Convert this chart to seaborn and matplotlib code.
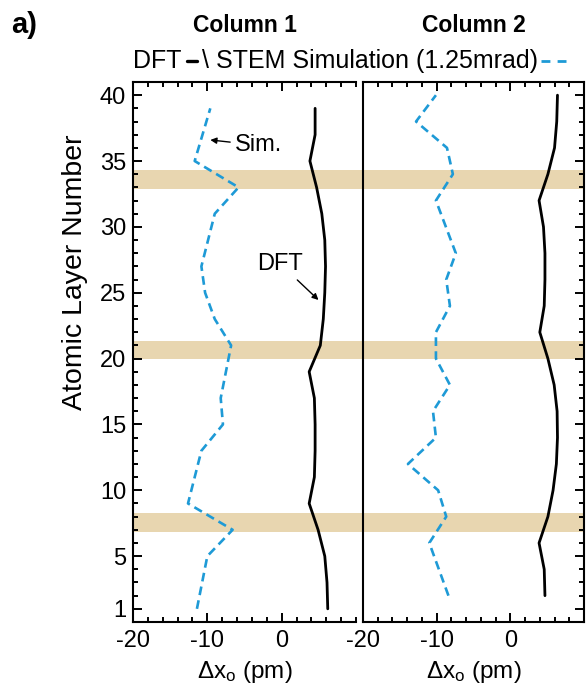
import numpy as np
import pandas as pd
import matplotlib
matplotlib.use("Agg")
import matplotlib.pyplot as plt
import seaborn as sns
from matplotlib.ticker import MultipleLocator, FixedLocator
from matplotlib.lines import Line2D

sns.set_theme(style="ticks")
plt.rcParams['font.family'] = ['Liberation Sans', 'DejaVu Sans']
plt.rcParams['mathtext.default'] = 'regular'
plt.rcParams['axes.unicode_minus'] = False
plt.rcParams['text.color'] = 'black'
plt.rcParams['axes.labelcolor'] = 'black'
plt.rcParams['xtick.color'] = 'black'
plt.rcParams['ytick.color'] = 'black'

# ---------------- data ----------------
c1_dft_layer = [1, 3, 5, 7, 9, 11, 13, 15, 17, 19, 21, 23, 25, 27, 29, 31, 33, 35, 37, 39]
c1_dft_dx = [6.2, 6.1, 5.8, 4.9, 3.7, 4.4, 4.5, 4.5, 4.4, 3.7, 5.2, 5.6, 5.8, 5.9, 5.8, 5.4, 4.7, 3.8, 4.5, 4.5]

c1_sim_layer = [1, 5, 7, 9, 13, 15, 17, 21, 23, 25, 27, 31, 33, 35, 39]
c1_sim_dx = [-11.4, -10.0, -6.6, -12.6, -10.8, -7.9, -8.2, -6.8, -9.0, -10.3, -10.8, -9.0, -5.8, -11.7, -9.6]

c2_dft_layer = [2, 4, 6, 8, 10, 12, 14, 16, 18, 20, 22, 24, 26, 28, 30, 32, 34, 36, 38, 40]
c2_dft_dx = [4.7, 4.6, 3.9, 5.1, 5.8, 6.25, 6.4, 6.35, 5.95, 5.1, 4.0, 4.6, 4.7, 4.7, 4.5, 3.9, 5.1, 6.0, 6.3, 6.4]

c2_sim_layer = [2, 6, 8, 10, 12, 14, 16, 18, 20, 22, 24, 26, 28, 32, 34, 36, 38, 40]
c2_sim_dx = [-8.4, -11.0, -8.7, -9.8, -13.9, -10.1, -10.5, -8.2, -10.1, -10.1, -8.2, -8.7, -7.4, -10.1, -7.8, -8.6, -12.8, -10.1]

band_lo = [32.9, 20.0, 6.8]
band_hi = [34.3, 21.3, 8.3]

y_ticks = [1, 5, 10, 15, 20, 25, 30, 35, 40]
x_ticks = [-20, -10, 0]
titles = ["Column 1", "Column 2"]

# ---------------- style ----------------
BLUE = "#1E9AD6"
TAN = "#E8D6B0"
W, H = 586, 687
FS = 17

fig = plt.figure(figsize=(W / 100, H / 100), dpi=100)


def rect(l, r, t, b):
    return [l / W, 1 - b / H, (r - l) / W, (b - t) / H]


ax1 = fig.add_axes(rect(133, 356, 82, 622))
ax2 = fig.add_axes(rect(363, 584, 82, 622))
ax1.set_zorder(0)
ax2.set_zorder(1)
ax2.patch.set_alpha(0)

# shaded bands spanning both panels
span_frac = (584 - 133) / (356 - 133)
for lo, hi in zip(band_lo, band_hi):
    ax1.axhspan(lo, hi, xmin=0, xmax=span_frac, color=TAN, lw=0, zorder=0, clip_on=False)

frames = [
    (ax1, c1_dft_layer, c1_dft_dx, c1_sim_layer, c1_sim_dx),
    (ax2, c2_dft_layer, c2_dft_dx, c2_sim_layer, c2_sim_dx),
]
for ax, dl, dx, sl, sx in frames:
    d_dft = pd.DataFrame({"layer": dl, "dx": dx})
    d_sim = pd.DataFrame({"layer": sl, "dx": sx})
    sns.lineplot(data=d_dft, x="dx", y="layer", orient="y", ax=ax,
                 color="black", lw=2.0, zorder=3)
    sns.lineplot(data=d_sim, x="dx", y="layer", orient="y", ax=ax,
                 color=BLUE, lw=1.9, linestyle=(0, (3.3, 2.0)), zorder=3)
    ax.set_xlim(-20, 10)
    ax.set_ylim(0, 41)
    ax.xaxis.set_major_locator(FixedLocator(x_ticks))
    ax.xaxis.set_minor_locator(MultipleLocator(2))
    ax.yaxis.set_major_locator(FixedLocator(y_ticks))
    ax.yaxis.set_minor_locator(MultipleLocator(1))
    ax.tick_params(which="both", direction="in", width=1.4, top=True, bottom=True,
                   labelsize=FS, color="black", labelcolor="black")
    ax.tick_params(which="major", length=6.5)
    ax.tick_params(which="minor", length=3.5)
    ax.tick_params(axis="x", pad=6)
    ax.set_xticklabels([str(t) for t in x_ticks])
    for s in ax.spines.values():
        s.set_linewidth(1.5)
        s.set_color("black")
    ax.set_xlabel("Δx$_o$ (pm)", fontsize=FS + 0.5, color="black", va="top")
    ax.xaxis.set_label_coords(0.5, -0.068)
    ax.set_ylabel("")

ax1.spines["right"].set_visible(False)
ax1.tick_params(axis="y", which="both", left=True, right=False, pad=5)
ax1.set_yticklabels([str(t) for t in y_ticks])
ax1.set_ylabel("Atomic Layer Number", fontsize=20.5, color="black", va="center")
ax1.yaxis.set_label_coords(-0.262, 0.648)

ax2.tick_params(axis="y", which="both", left=False, right=True, labelleft=False, labelright=False)

# titles
fig.text(245 / W, 1 - 26 / H, titles[0], fontsize=16.5, fontweight="bold", ha="center", va="center")
fig.text(474 / W, 1 - 26 / H, titles[1], fontsize=16.5, fontweight="bold", ha="center", va="center")
fig.text(11 / W, 1 - 25 / H, "a)", fontsize=21, fontweight="bold", ha="left", va="center")

# annotations
ax1.annotate("Sim.", xy=(-9.6, 36.6), xytext=(-6.3, 36.2), fontsize=FS, va="center", ha="left",
             arrowprops=dict(arrowstyle="-|>", color="black", lw=1.0, mutation_scale=9,
                             shrinkA=1, shrinkB=0))
ax1.annotate("DFT", xy=(4.95, 24.45), xytext=(-0.2, 27.2), fontsize=FS, va="center", ha="center",
             arrowprops=dict(arrowstyle="-|>", color="black", lw=1.0, mutation_scale=9,
                             shrinkA=2, shrinkB=0))

# custom legend line: "DFT — \ STEM Simulation (1.25mrad) - -"
fig.canvas.draw()
r = fig.canvas.get_renderer()
yl = 1 - 61 / H
t1 = fig.text(133 / W, yl, "DFT", fontsize=18, ha="left", va="center")
bb1 = t1.get_window_extent(r)
x0 = bb1.x1 + 5
fig.add_artist(Line2D([x0 / W, (x0 + 10) / W], [yl, yl], transform=fig.transFigure,
                      color="black", lw=2.4))
t2 = fig.text((x0 + 15) / W, yl, "\\ STEM Simulation (1.25mrad)", fontsize=18, ha="left", va="center")
bb2 = t2.get_window_extent(r)
x1 = bb2.x1 + 3
fig.add_artist(Line2D([x1 / W, (x1 + 31) / W], [yl, yl], transform=fig.transFigure,
                      color=BLUE, lw=2.0, linestyle=(0, (3.2, 2.6))))

fig.savefig("out.png", dpi=100)
